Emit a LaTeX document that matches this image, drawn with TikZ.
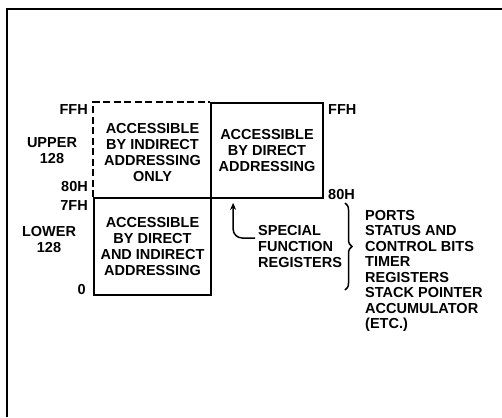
\documentclass[tikz,border=0pt]{standalone}
\usepackage{fontspec}
\setmainfont{Liberation Sans}
\usetikzlibrary{arrows.meta,positioning,calc,decorations.pathreplacing}

\begin{document}
\begin{tikzpicture}[
  x=1pt, y=-1pt,
  font=\fontsize{14.5}{16}\selectfont\bfseries,
  area/.style={draw, line width=1.8pt, align=center, inner sep=0pt},
  lbl/.style={inner sep=0pt, align=center},
  note/.style={inner sep=0pt, align=left},
  >={Stealth[length=7pt, width=6pt]}
]
  \useasboundingbox (0,0) rectangle (502,417);
  % outer frame
  \draw[line width=1.2pt] (502,9) -- (7,9) -- (7,417);

  % memory map
  \node[area, minimum width=112pt, minimum height=95pt] (dir) at (267,150.5) {ACCESSIBLE\\BY DIRECT\\ADDRESSING};
  \node[area, minimum width=117pt, minimum height=97pt] (low) at (152.5,246.5) {ACCESSIBLE\\BY DIRECT\\AND INDIRECT\\ADDRESSING};
  \coordinate (ultop) at (low.north west |- dir.north);
  \draw[line width=1.8pt, dash pattern=on 7pt off 3.5pt] (low.north west) -- (ultop) -- (dir.north west);
  \node[lbl] (ind) at (152.5,153) {ACCESSIBLE\\BY INDIRECT\\ADDRESSING\\ONLY};

  % addresses
  \node[lbl, anchor=east] (ffhl) at (88,110) {FFH};
  \node[lbl, anchor=east] (hil) at (88,187) {80H};
  \node[lbl, anchor=east] (lol) at (88,206) {7FH};
  \node[lbl, anchor=east] (zero) at (86,290) {0};
  \node[lbl] (upper) at (52,151) {UPPER\\128};
  \node[lbl] (lower) at (49,240) {LOWER\\128};
  \node[lbl, anchor=west] (ffhr) at (328,110) {FFH};
  \node[lbl, anchor=west] (hir) at (328,195) {80H};

  % special function registers
  \node[note, anchor=north west] (sfr) at (258,225) {SPECIAL\\FUNCTION\\REGISTERS};
  \coordinate (tip) at ([xshift=23pt, yshift=-4pt]dir.south west);
  \draw[->, line width=1.5pt, rounded corners=9pt] ([xshift=-3pt, yshift=-13pt]sfr.north west) -| (tip);
  \draw[decorate, decoration={brace, amplitude=7pt}, line width=1.5pt] (345,203) -- (345,290);
  \node[note, anchor=north west, font=\fontsize{14.5}{15.5}\selectfont\bfseries] (list) at (365,210)
    {PORTS\\STATUS AND\\CONTROL BITS\\TIMER\\REGISTERS\\STACK POINTER\\ACCUMULATOR\\(ETC.)};
\end{tikzpicture}
\end{document}
